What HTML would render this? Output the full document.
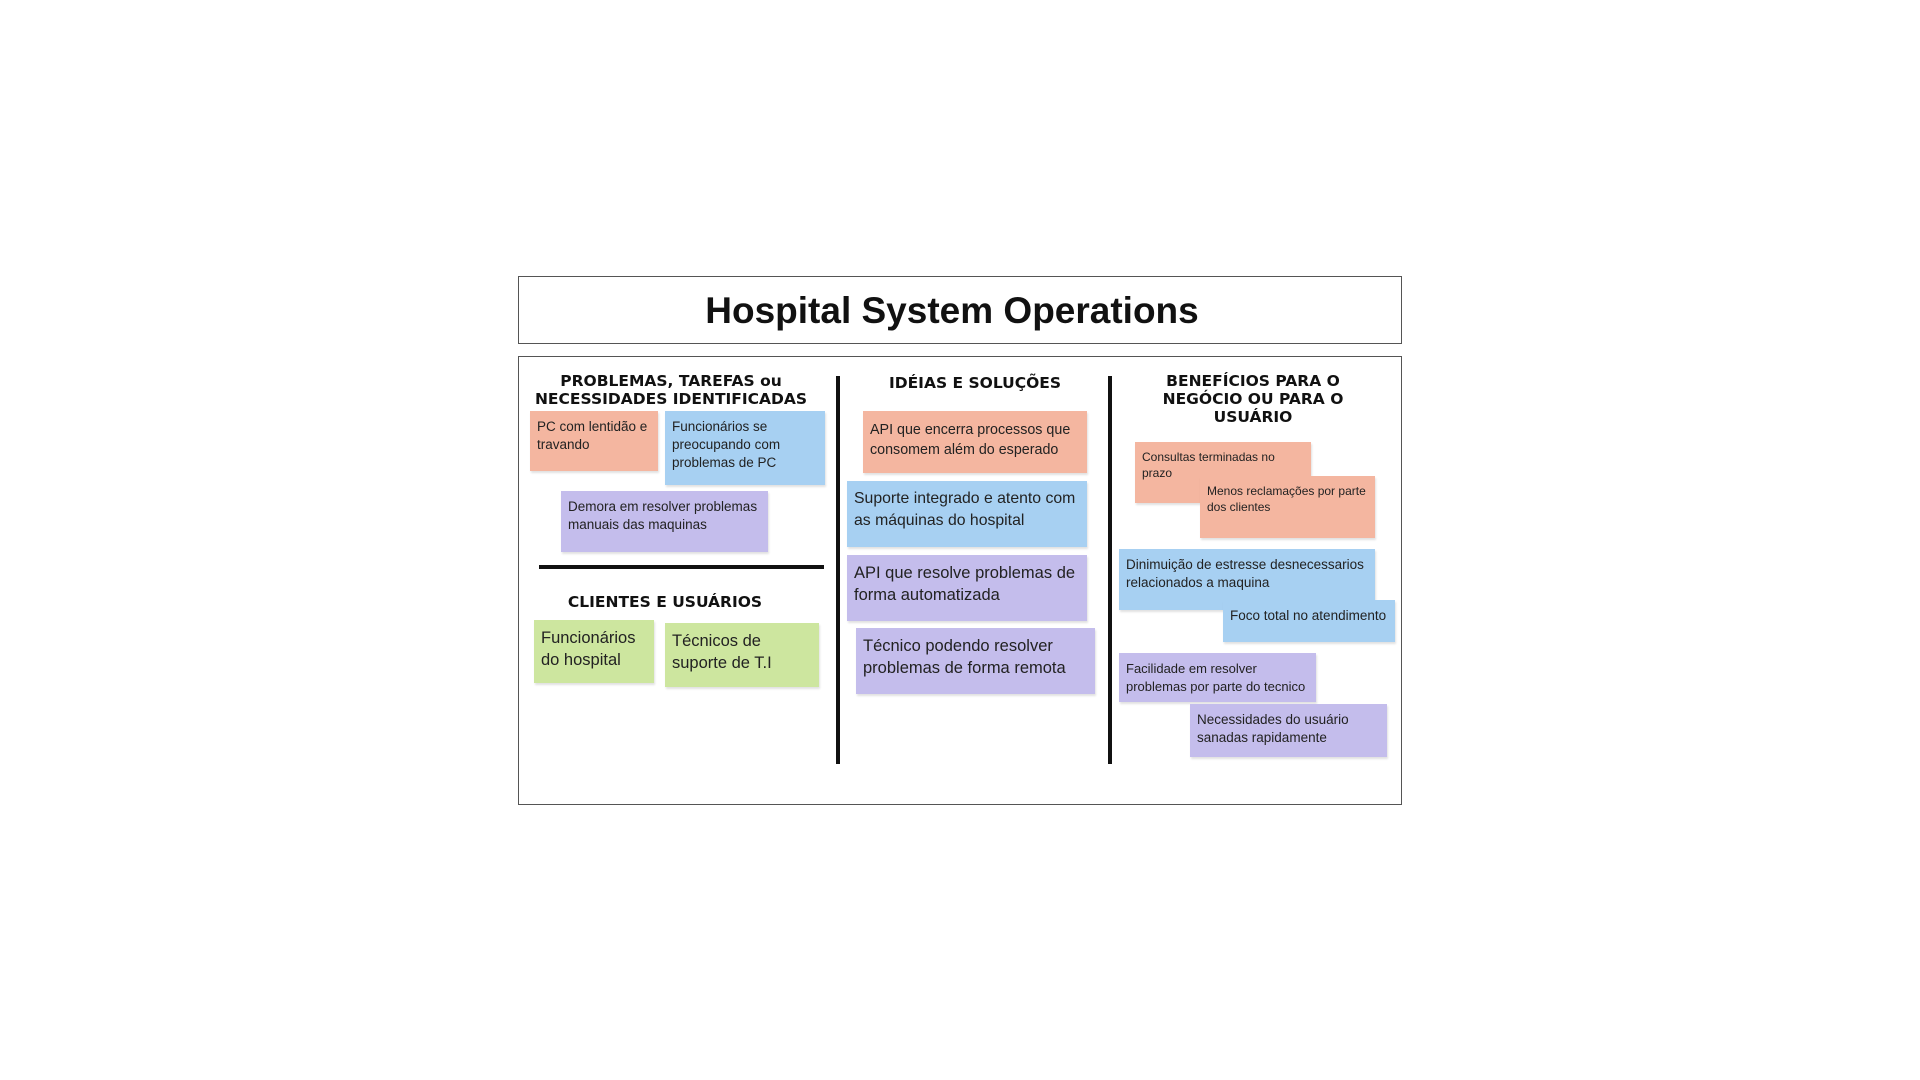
<!DOCTYPE html>
<html><head><meta charset="utf-8"><style>
body{margin:0;width:1920px;height:1080px;background:#fff;position:relative;font-family:"Liberation Sans",sans-serif;overflow:hidden}
.box{position:absolute;border:1.5px solid #555;box-sizing:border-box}
.t{position:absolute;left:510px;top:290px;width:884px;text-align:center;font-weight:bold;font-size:37px;color:#111}
.h{position:absolute;text-align:center;font-weight:bold;font-size:15.5px;line-height:18px;color:#111;font-family:"DejaVu Sans","Liberation Sans",sans-serif;letter-spacing:0px}
.s{position:absolute;box-sizing:border-box;padding:7px 7px;color:#222;font-size:13.5px;line-height:18px;box-shadow:1px 2px 2px rgba(0,0,0,0.12)}
.r{background:#f4b6a0}.b{background:#a7d0f2}.p{background:#c4bdec}.g{background:#cde69f}
.big{font-size:16.5px;line-height:22px}
.sm{font-size:12px;line-height:16px}
.v{position:absolute;background:#111}
</style></head><body>
<div class="box" style="left:518px;top:276px;width:884px;height:68px"></div>
<div class="t">Hospital System Operations</div>
<div class="box" style="left:518px;top:356px;width:884px;height:449px"></div>
<div class="v" style="left:836px;top:376px;width:4px;height:388px"></div>
<div class="v" style="left:1108px;top:376px;width:4px;height:388px"></div>
<div class="v" style="left:539px;top:565px;width:285px;height:4px"></div>

<div class="h" style="left:520px;top:372px;width:302px">PROBLEMAS, TAREFAS ou<br>NECESSIDADES IDENTIFICADAS</div>
<div class="h" style="left:860px;top:374px;width:230px">IDÉIAS E SOLUÇÕES</div>
<div class="h" style="left:1130px;top:372px;width:246px">BENEFÍCIOS PARA O<br>NEGÓCIO OU PARA O<br>USUÁRIO</div>
<div class="h" style="left:540px;top:593px;width:250px">CLIENTES E USUÁRIOS</div>

<div class="s r" style="left:530px;top:411px;width:128px;height:60px">PC com lentidão e travando</div>
<div class="s b" style="left:665px;top:411px;width:160px;height:74px">Funcionários se preocupando com problemas de PC</div>
<div class="s p" style="left:561px;top:491px;width:207px;height:61px">Demora em resolver problemas manuais das maquinas</div>
<div class="s g big" style="left:534px;top:620px;width:120px;height:63px">Funcionários do hospital</div>
<div class="s g big" style="left:665px;top:623px;width:154px;height:64px">Técnicos de suporte de T.I</div>

<div class="s r" style="left:863px;top:411px;width:224px;height:62px;font-size:14.3px;line-height:20px;padding:9px 5px 0 7px">API que encerra processos que consomem além do esperado</div>
<div class="s b big" style="left:847px;top:481px;width:240px;height:66px;font-size:15.8px;padding:7px 4px 0 7px">Suporte integrado e atento com as máquinas do hospital</div>
<div class="s p big" style="left:847px;top:555px;width:240px;height:66px">API que resolve problemas de forma automatizada</div>
<div class="s p big" style="left:856px;top:628px;width:239px;height:66px">Técnico podendo resolver problemas de forma remota</div>

<div class="s r sm" style="left:1135px;top:442px;width:176px;height:61px">Consultas terminadas no prazo</div>
<div class="s r sm" style="left:1200px;top:476px;width:175px;height:62px">Menos reclamações por parte dos clientes</div>
<div class="s b" style="left:1119px;top:549px;width:256px;height:61px">Dinimuição de estresse desnecessarios relacionados a maquina</div>
<div class="s b" style="left:1223px;top:600px;width:172px;height:42px">Foco total no atendimento</div>
<div class="s p" style="left:1119px;top:653px;width:197px;height:49px;font-size:13px;padding:7px 3px 0 7px">Facilidade em resolver problemas por parte do tecnico</div>
<div class="s p" style="left:1190px;top:704px;width:197px;height:53px">Necessidades do usuário sanadas rapidamente</div>
</body></html>
